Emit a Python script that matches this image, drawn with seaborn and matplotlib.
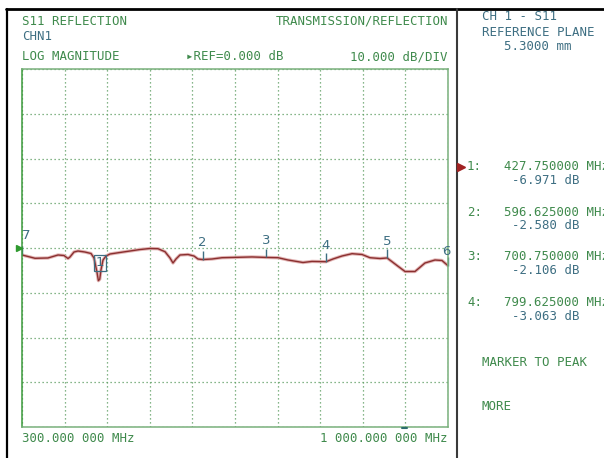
import numpy as np
import pandas as pd
import matplotlib
matplotlib.use("Agg")
import matplotlib.pyplot as plt
from matplotlib.lines import Line2D
import seaborn as sns

# S11 trace (frequency in MHz, magnitude in dB)
freq_mhz = [300.0, 321.4, 342.7, 359.2, 369.0, 375.6, 378.9, 385.4, 392.0, 403.5,
            413.4, 418.3, 423.2, 425.5, 427.75, 429.8, 433.1, 438.0, 444.6, 461.0,
            477.5, 493.9, 510.3, 523.5, 535.0, 543.2, 548.1, 553.0, 559.6, 572.8,
            582.6, 589.2, 596.625, 612.2, 628.6, 654.9, 677.9, 700.75, 720.7, 737.1,
            761.7, 776.5, 799.625, 811.0, 825.8, 842.3, 858.7, 871.8, 888.3, 900.0,
            916.2, 929.4, 945.8, 962.2, 978.6, 990.1, 1000.0]
s11_db = [-1.56, -2.30, -2.23, -1.56, -1.68, -2.35, -2.00, -0.90, -0.67, -0.90,
          -1.23, -2.23, -5.40, -7.30, -6.971, -4.90, -2.70, -1.80, -1.34, -1.00,
          -0.67, -0.34, -0.11, -0.16, -0.83, -2.23, -3.35, -2.46, -1.56, -1.45,
          -1.79, -2.46, -2.580, -2.46, -2.17, -2.08, -2.00, -2.106, -2.17, -2.68,
          -3.24, -3.00, -3.063, -2.46, -1.79, -1.27, -1.45, -2.17, -2.35, -2.23,
          -3.91, -5.25, -5.25, -3.35, -2.68, -2.79, -3.96]

# Trace markers
marker_ids = ["1", "2", "3", "4", "5", "6", "7"]
marker_freqs = [427.75, 596.625, 700.75, 799.625, 900.0, 1000.0, 300.0]
marker_db = [-6.971, -2.580, -2.106, -3.063, -2.23, -3.96, -1.56]

# Marker readout table
readout_ids = ["1:", "2:", "3:", "4:"]
readout_freqs = ["427.750000 MHz", "596.625000 MHz", "700.750000 MHz", "799.625000 MHz"]
readout_vals = ["-6.971 dB", "-2.580 dB", "-2.106 dB", "-3.063 dB"]

start_label = "300.000 000 MHz"
stop_label = "1 000.000 000 MHz"

W, H = 604, 458
GREEN = "#3f8a4c"
BLUE = "#3d6e82"
TRACE = "#8a2f2f"
GRID = "#5f9f62"

sns.set_style("white")
plt.rcParams["font.family"] = ["DejaVu Sans Mono", "DejaVu Sans"]
FS = 8.9

fig = plt.figure(figsize=(W / 100, H / 100), dpi=100)
fig.patch.set_facecolor("white")


def fx(x):
    return x / W


def fy(y):
    return 1 - y / H


def label(x, y, s, color=GREEN, ha="left", size=FS):
    fig.text(fx(x), fy(y), s, color=color, ha=ha, va="center", fontsize=size)


ax = fig.add_axes([fx(22), fy(427), (448 - 22) / W, (427 - 69) / H])
df = pd.DataFrame({"freq": freq_mhz, "db": s11_db})
sns.lineplot(data=df, x="freq", y="db", ax=ax, color="#e2b4b4", linewidth=2.4)
sns.lineplot(data=df, x="freq", y="db", ax=ax, color=TRACE, linewidth=1.0)

ax.set_xlim(300, 1000)
ax.set_ylim(-40, 40)
ax.set_xticks(np.arange(300, 1001, 70))
ax.set_yticks(np.arange(-40, 41, 10))
ax.tick_params(length=0, labelbottom=False, labelleft=False)
ax.set_xlabel("")
ax.set_ylabel("")
ax.grid(True, color=GRID, linestyle=(0, (1, 2.2)), linewidth=0.9)
for name, sp in ax.spines.items():
    sp.set_color("#79b07c")
    sp.set_linewidth(1.1)
ax.spines["left"].set_color("#3c9a3c")

# Marker ticks and numbers
for mid, mf, mv in zip(marker_ids, marker_freqs, marker_db):
    if mid == "1":
        ax.annotate(mid, (mf, mv), xytext=(0, 11.8), textcoords="offset points",
                    ha="center", va="center", color=BLUE, fontsize=9.5,
                    family="DejaVu Sans",
                    bbox=dict(boxstyle="square,pad=0.12", fc="none", ec=BLUE, lw=0.9))
        continue
    ax.vlines(mf, mv, mv + 1.9, color=BLUE, linewidth=1.0, clip_on=False)
    t = ax.annotate(mid, (mf, mv), xytext=(0, 12), textcoords="offset points",
                    ha="center", va="center", color=BLUE, fontsize=9.5,
                    family="DejaVu Sans", annotation_clip=False)
    if mid == "7":
        t.xyann = (3, 14)
    if mid == "6":
        t.xyann = (-1, 10.5)

# Header texts
label(22, 21.5, "S11 REFLECTION")
label(448, 21.5, "TRANSMISSION/REFLECTION", ha="right")
label(22, 37, "CHN1", color=BLUE)
label(22, 57, "LOG MAGNITUDE")
label(186, 57, "\u25b8REF=0.000 dB")
label(448, 57, "10.000 dB/DIV", ha="right")
label(22, 439, start_label)
label(448, 439, stop_label, ha="right")

# Right-hand panel
label(482, 16, "CH 1 - S11", color=BLUE)
label(482, 32, "REFERENCE PLANE", color=BLUE)
label(504, 47, "5.3000 mm", color=BLUE)
for i, (rid, rf, rv) in enumerate(zip(readout_ids, readout_freqs, readout_vals)):
    y0 = 167 + 45 * i
    label(467, y0, rid)
    label(504, y0, rf)
    label(512, y0 + 14, rv, color=BLUE)
label(482, 362, "MARKER TO PEAK")
label(482, 407, "MORE")

# Frame lines and indicators
fig.add_artist(Line2D([fx(6), fx(604)], [fy(9), fy(9)], color="black", lw=2.0))
fig.add_artist(Line2D([fx(7.5), fx(7.5)], [fy(9), fy(458)], color="black", lw=1.6))
fig.add_artist(Line2D([fx(457), fx(457)], [fy(9), fy(458)], color="#3a3a3a", lw=1.5))
fig.add_artist(Line2D([fx(19)], [fy(248)], marker=">", markersize=4,
                      color="#2f9a2f", linestyle="none"))
fig.add_artist(Line2D([fx(461)], [fy(167)], marker=">", markersize=6,
                      color="#a02222", linestyle="none"))
fig.add_artist(Line2D([fx(402), fx(407)], [fy(427.5), fy(427.5)], color="#2d6e6e", lw=1.5))

fig.savefig("out.png", dpi=100, facecolor="white")
